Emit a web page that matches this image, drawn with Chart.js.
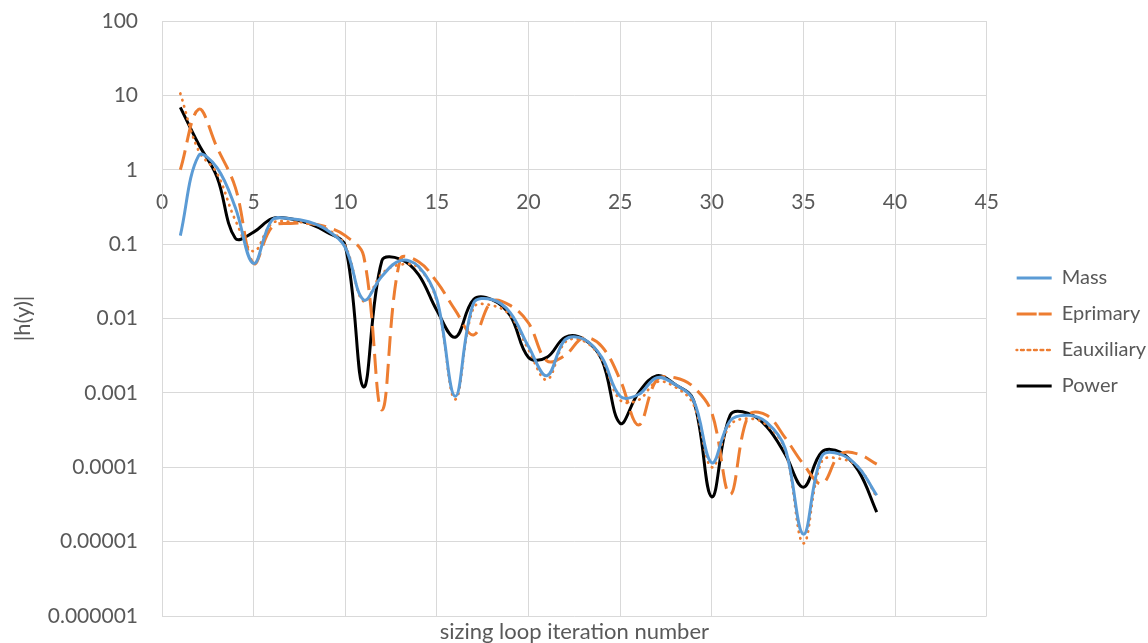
<!DOCTYPE html>
<html>
<head>
<meta charset="utf-8">
<title>|h(y)| by sizing loop iteration</title>
<script src="https://cdn.jsdelivr.net/npm/chart.js@4.4.1/dist/chart.umd.min.js"></script>
<style>
  html, body { margin: 0; padding: 0; background: #ffffff; }
  #wrap { width: 1148px; height: 643px; position: relative; }
</style>
</head>
<body>
<div id="wrap"><canvas id="h-chart"></canvas></div>
<script>
// iteration numbers on the x axis
const iterations = [1, 2, 3, 4, 5, 6, 7, 8, 9, 10, 11, 12, 13, 14, 15, 16, 17, 18, 19, 20,
  21, 22, 23, 24, 25, 26, 27, 28, 29, 30, 31, 32, 33, 34, 35, 36, 37, 38, 39];

// |h(y)|, one value per iteration
const massValues = [0.13, 1.55, 1.07, 0.31, 0.055, 0.21, 0.22, 0.2, 0.155, 0.09,
  0.0178, 0.037, 0.06, 0.05, 0.018, 0.0009, 0.016, 0.018, 0.012, 0.0042,
  0.0017, 0.0052, 0.0053, 0.003, 0.0009, 0.00095, 0.0016, 0.0013, 0.0008, 0.000115,
  0.00042, 0.0005, 0.0004, 0.00018, 0.0000126, 0.00014, 0.00015, 0.0001, 0.000042];

const eprimaryValues = [1.0, 6.5, 2.0, 0.58, 0.055, 0.17, 0.19, 0.19, 0.17, 0.13,
  0.07, 0.00059, 0.063, 0.058, 0.031, 0.013, 0.006, 0.017, 0.015, 0.0087,
  0.0027, 0.0032, 0.0055, 0.0042, 0.0015, 0.00037, 0.0015, 0.0016, 0.0012, 0.00054,
  0.000043, 0.0005, 0.0005, 0.00025, 0.00011, 0.00006, 0.00015, 0.00015, 0.00011];

const eauxiliaryValues = [10.6, 1.8, 0.9, 0.21, 0.08, 0.19, 0.2, 0.19, 0.16, 0.095,
  0.017, 0.04, 0.053, 0.048, 0.017, 0.00082, 0.014, 0.015, 0.011, 0.0038,
  0.0015, 0.0048, 0.005, 0.0028, 0.0008, 0.0008, 0.0014, 0.0012, 0.0007, 0.0001,
  0.00037, 0.00045, 0.00037, 0.00017, 0.0000095, 0.00012, 0.00013, 0.0001, 0.00004];

const powerValues = [6.9, 2.2, 0.8, 0.12, 0.145, 0.22, 0.22, 0.19, 0.145, 0.095,
  0.0012, 0.06, 0.063, 0.039, 0.0128, 0.0056, 0.018, 0.018, 0.011, 0.003,
  0.003, 0.0056, 0.0053, 0.0028, 0.00039, 0.001, 0.0017, 0.0013, 0.0008, 0.00004,
  0.0005, 0.00053, 0.00035, 0.00015, 0.000054, 0.00016, 0.00016, 0.00009, 0.000025];

const xTicks = [0, 5, 10, 15, 20, 25, 30, 35, 40, 45];
const yTicks = [100, 10, 1, 0.1, 0.01, 0.001, 0.0001, 0.00001, 0.000001];
const yTickLabels = ["100", "10", "1", "0.1", "0.01", "0.001", "0.0001", "0.00001", "0.000001"];

const textColor = "#595959";
const gridColor = "#d9d9d9";
const fontFamily = "Lato, 'Open Sans', sans-serif";
const tickFont = { family: fontFamily, size: 21 };

const toPoints = (values) => values.map((v, i) => ({ x: iterations[i], y: v }));

// moves the legend block over to where the reference has it
const legendShift = { x: 14, y: 0 };
const legendNudge = {
  id: "legendNudge",
  afterLayout(chart) {
    const lg = chart.legend;
    lg.left += legendShift.x;
    lg.right += legendShift.x;
    lg.top += legendShift.y;
    lg.bottom += legendShift.y;
  },
};

const ctx = document.getElementById("h-chart");
const hChart = new Chart(ctx, {
  type: "line",
  data: {
    datasets: [
      {
        label: "Mass",
        data: toPoints(massValues),
        borderColor: "#5b9bd5",
        backgroundColor: "#5b9bd5",
        borderWidth: 3,
      },
      {
        label: "Eprimary",
        data: toPoints(eprimaryValues),
        borderColor: "#ed7d31",
        backgroundColor: "#ed7d31",
        borderWidth: 3,
        borderDash: [20, 8],
      },
      {
        label: "Eauxiliary",
        data: toPoints(eauxiliaryValues),
        borderColor: "#ed7d31",
        backgroundColor: "#ed7d31",
        borderWidth: 2.7,
        borderDash: [0.5, 6],
        borderCapStyle: "round",
      },
      {
        label: "Power",
        data: toPoints(powerValues),
        borderColor: "#000000",
        backgroundColor: "#000000",
        borderWidth: 3,
      },
    ],
  },
  options: {
    responsive: true,
    maintainAspectRatio: false,
    animation: false,
    events: [],
    elements: {
      point: { radius: 0 },
      line: { tension: 0.38, fill: false },
    },
    layout: { padding: { top: 21, left: 4, right: 6, bottom: 0 } },
    plugins: {
      legend: {
        position: "right",
        labels: {
          color: textColor,
          font: { family: fontFamily, size: 20 },
          boxWidth: 35,
          boxHeight: 0,
          padding: 16,
        },
      },
      tooltip: { enabled: false },
    },
    scales: {
      x: {
        type: "linear",
        position: { y: 1 },
        min: 0,
        max: 45,
        afterBuildTicks: (axis) => {
          axis.ticks = xTicks.map((v) => ({ value: v }));
        },
        grid: { color: gridColor, drawTicks: false },
        border: { color: gridColor },
        ticks: { color: textColor, font: tickFont, padding: 20, maxRotation: 0 },
      },
      xTitle: {
        type: "linear",
        position: "bottom",
        min: 0,
        max: 45,
        afterFit: (axis) => {
          axis.height = 27;
        },
        grid: { display: false, drawTicks: false },
        border: { display: false },
        ticks: { display: false },
        title: {
          display: true,
          text: "sizing loop iteration number",
          color: textColor,
          font: { family: fontFamily, size: 22, lineHeight: 1 },
          padding: { top: 0, bottom: 0 },
        },
      },
      y: {
        type: "logarithmic",
        min: 0.000001,
        max: 100,
        afterBuildTicks: (axis) => {
          axis.ticks = yTicks.map((v) => ({ value: v }));
        },
        afterFit: (axis) => {
          axis.width = 158;
          // the end labels may hang over the plot edges, as in the reference
          axis.paddingTop = 0;
          axis.paddingBottom = 0;
        },
        grid: { color: gridColor, drawTicks: false },
        border: { color: gridColor },
        ticks: {
          color: textColor,
          font: tickFont,
          padding: 24,
          callback: (value, index) => yTickLabels[index],
        },
        title: {
          display: true,
          text: "|h(y)|",
          color: textColor,
          font: { family: fontFamily, size: 22 },
          padding: { top: 6, bottom: 0 },
        },
      },
    },
  },
  plugins: [legendNudge],
});
</script>
</body>
</html>
